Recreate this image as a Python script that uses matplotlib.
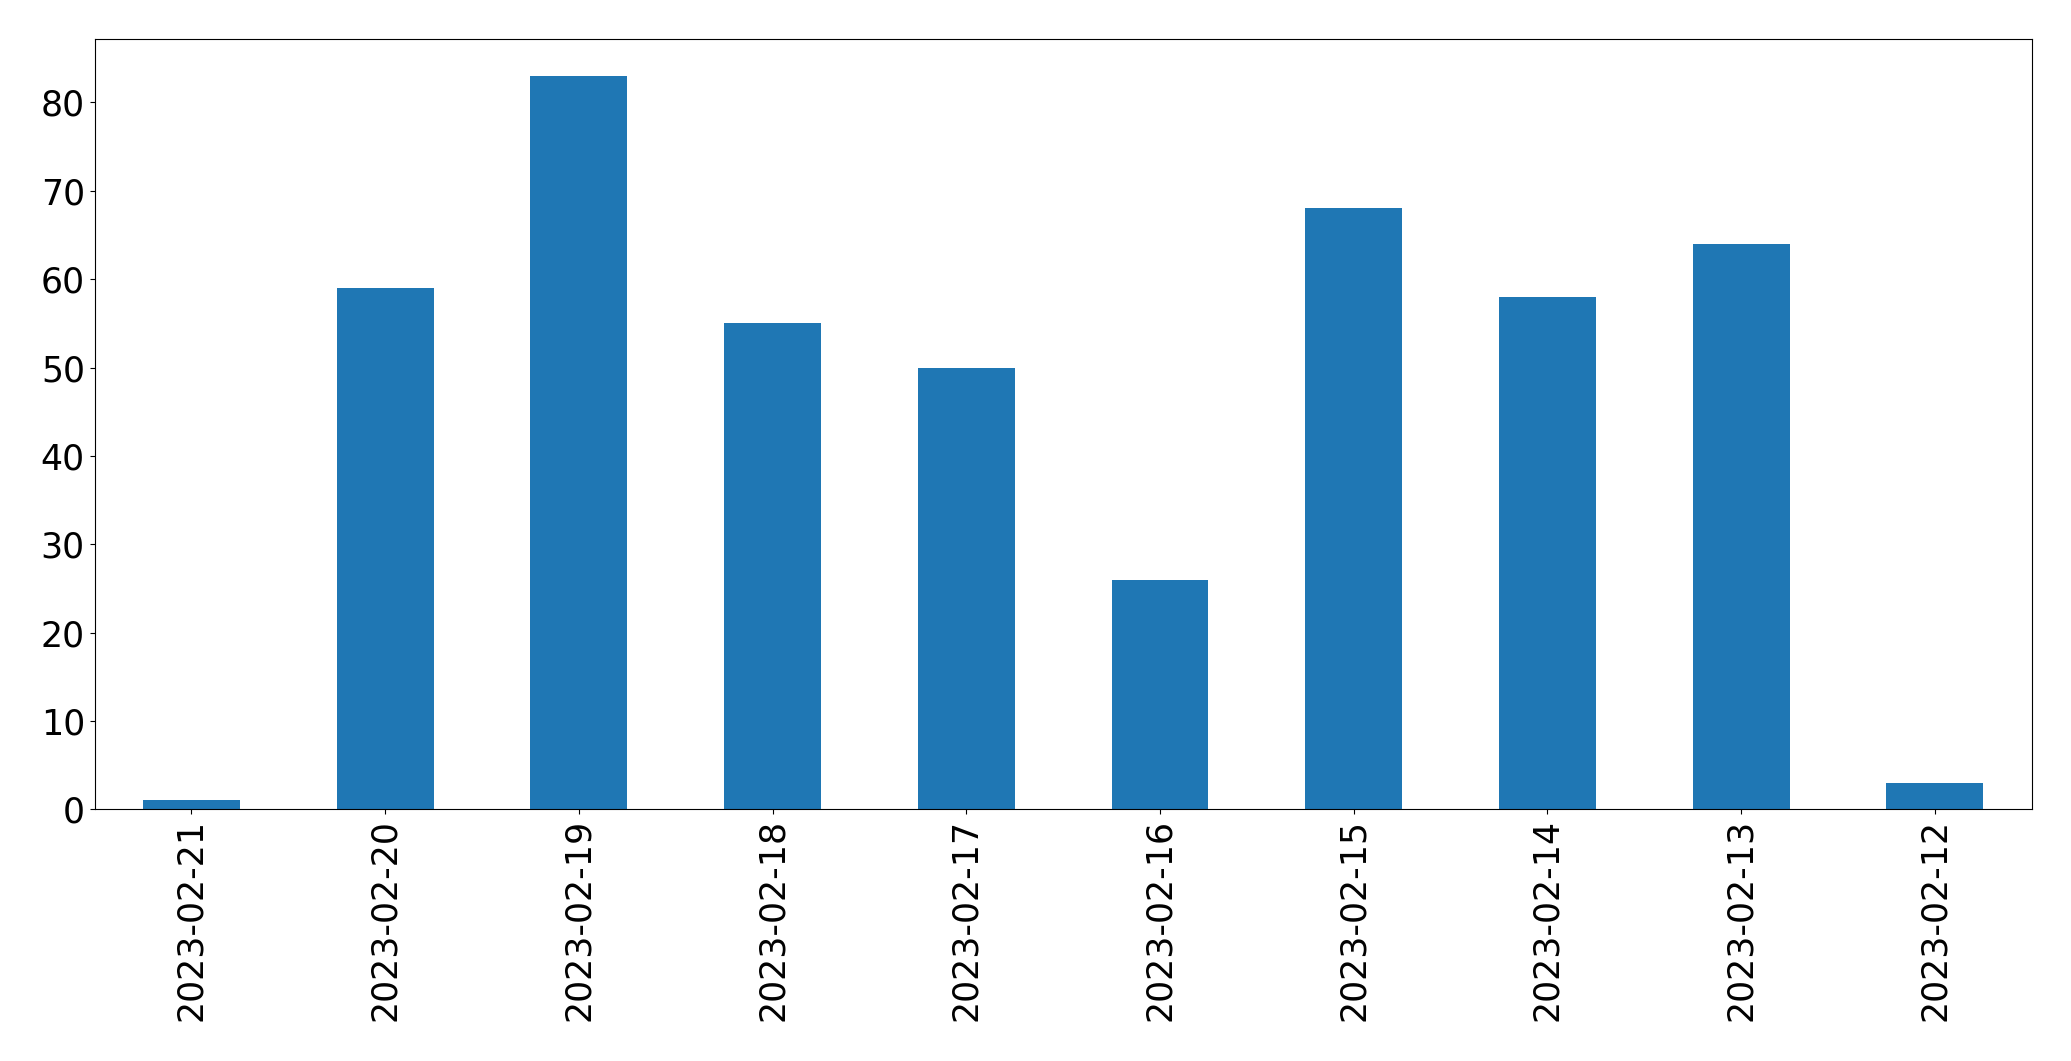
import matplotlib
matplotlib.use("Agg")
import matplotlib.pyplot as plt

dates = ["2023-02-21", "2023-02-20", "2023-02-19", "2023-02-18", "2023-02-17",
         "2023-02-16", "2023-02-15", "2023-02-14", "2023-02-13", "2023-02-12"]
counts = [1, 59, 83, 55, 50, 26, 68, 58, 64, 3]

fig = plt.figure(figsize=(20.71, 10.61), dpi=100)
ax = fig.add_axes([0.0457, 0.2372, 0.9353, 0.7258])
x = list(range(len(dates)))
ax.bar(x, counts, width=0.5, color="#1f77b4")
ax.set_xlim(-0.5, len(dates) - 0.5)
ax.set_ylim(0, max(counts) * 1.05)
ax.set_xticks(x)
ax.set_xticklabels(dates, rotation=90)
ax.tick_params(axis="both", labelsize=25)
fig.savefig("out.png", dpi=100)
